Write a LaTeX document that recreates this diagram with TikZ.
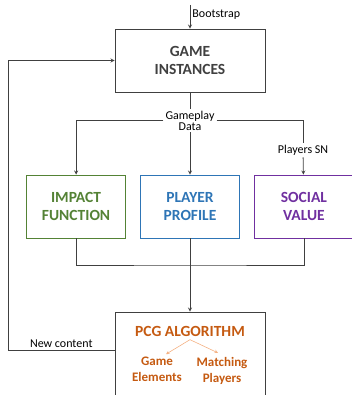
\documentclass[tikz,border=0pt]{standalone}
\usepackage{fontspec}
\setmainfont{Carlito}
\usetikzlibrary{positioning}

\definecolor{linegray}{HTML}{404040}
\definecolor{impgreen}{HTML}{548235}
\definecolor{profblue}{HTML}{2E75B6}
\definecolor{socpurple}{HTML}{7030A0}
\definecolor{pcgorange}{HTML}{C55A11}
\definecolor{pcglight}{HTML}{F4B183}

\begin{document}
\begin{tikzpicture}[
    x=1pt, y=1pt,
    node distance=14pt,
    box/.style={draw=linegray, line width=0.9pt, align=center,
        font=\fontsize{15.5}{18.5}\selectfont\bfseries, text=linegray},
    stage/.style={box, minimum width=99pt, minimum height=63pt},
    lbl/.style={font=\fontsize{12}{14}\selectfont, text=black, align=center, inner sep=2pt},
    flow/.style={->, >=stealth, draw=linegray, line width=0.8pt},
    link/.style={draw=linegray, line width=0.8pt},
    sub/.style={->, >=stealth, draw=pcglight, line width=0.6pt}
]
\useasboundingbox (0,0) rectangle (352,-395);

\node[box, minimum width=150pt, minimum height=63pt] (gi) at (190,-60.5) {GAME\\INSTANCES};

\node[stage, draw=profblue, text=profblue] (player) at (190,-206.5) {PLAYER\\PROFILE};
\node[stage, draw=impgreen, text=impgreen, left=of player] (impact) {IMPACT\\FUNCTION};
\node[stage, draw=socpurple, text=socpurple, right=of player] (social) {SOCIAL\\VALUE};

\node[box, minimum width=150pt, minimum height=100pt] (pcg) at (190,-362) {};
\node[font=\fontsize{15.5}{18.5}\selectfont\bfseries, text=pcgorange] (alg) at (190,-331) {PCG ALGORITHM};
\node[font=\fontsize{13}{16}\selectfont\bfseries, text=pcgorange, align=center] (elem) at (157,-369) {Game\\Elements};
\node[font=\fontsize{13}{16}\selectfont\bfseries, text=pcgorange, align=center] (match) at (222,-371) {Matching\\Players};

\node[lbl] (gd) at (190,-120.5) {Gameplay\\[-3pt]Data};
\node[lbl] (sn) at (303,-150) {Players SN};

\coordinate (boot) at (190,-5);
\coordinate (merge) at (190,-265);
\coordinate (corner) at (8,-350);

% input
\draw[flow] (boot) -- node[lbl, right, pos=0.4] {Bootstrap} (gi);

% gameplay data to the three modules
\draw[link] (gi) -- (gd);
\draw[flow] (gd.west) -| (impact);
\draw[flow] (gd) -- (player);
\draw[link] (gd.east) -| (sn);
\draw[flow] (sn) -- (social);

% modules into the PCG step
\draw[link] (impact) |- (merge) -| (social);
\draw[flow] (player) -- (pcg);

% sub-steps
\draw[sub] (alg.south) -- ([xshift=9pt,yshift=-1pt]elem.north);
\draw[sub] (alg.south) -- ([xshift=-4pt,yshift=1pt]match.north);

% feedback loop
\draw[flow] (corner -| pcg.west) -- node[lbl, above] {New content} (corner) |- (gi.west);

\end{tikzpicture}
\end{document}
